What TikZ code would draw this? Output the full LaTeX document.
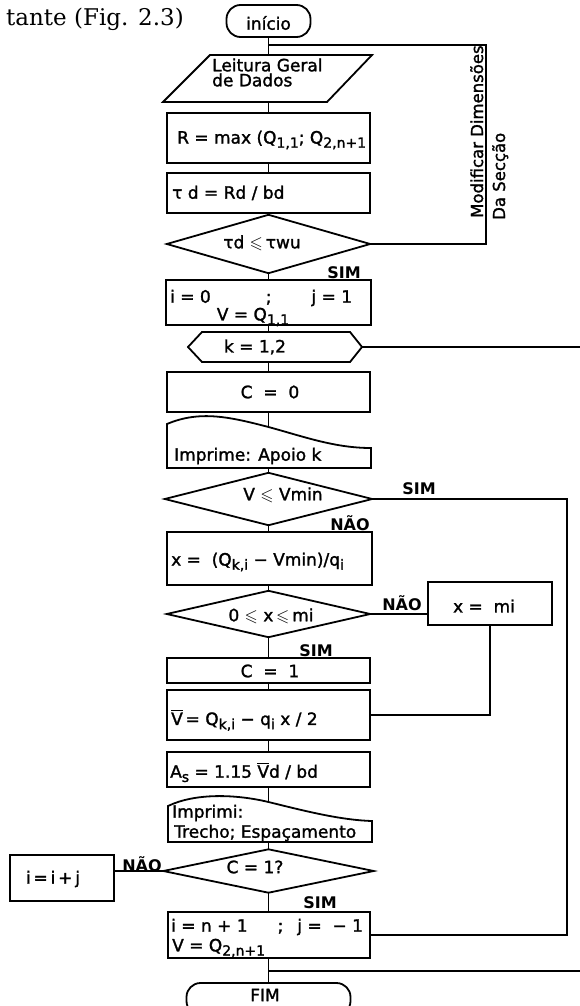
\documentclass[tikz,border=0pt]{standalone}
\usepackage{fontspec}
\setmainfont{DejaVu Sans}
\newfontfamily\medfont{DejaVu Sans}[FakeBold=1.5]
\newfontfamily\hdrfont{DejaVu Serif}
\usepackage{amssymb}
\newcommand\sbx[1]{\raisebox{-0.45ex}{\fontsize{14}{14}\selectfont #1}}
\newcommand\vov{$\overline{\mbox{V}}$}
\newcommand\leqs{$\leqslant$}
\begin{document}
\begin{tikzpicture}[x=1pt,y=-1pt]
\tikzset{
  ln/.style={line width=1.8pt},
  proc/.style={draw, line width=1.8pt, inner sep=0pt},
  frame/.style={inner sep=0pt},
  txt/.style={inner sep=0pt, font=\medfont\fontsize{17}{16}\selectfont},
  lbl/.style={inner sep=0pt, font=\bfseries\fontsize{16}{16}\selectfont},
  term/.style={draw, line width=1.8pt, rounded corners=14pt, inner sep=0pt},
}
\useasboundingbox (0,0) rectangle (580,1006);
\clip (0,0) rectangle (580,1006);
\fill[white] (0,0) rectangle (580,1006);

% header
\node[inner sep=0pt, anchor=west, font=\hdrfont\fontsize{23}{23}\selectfont] (hdr) at (6,19) {tante (Fig. 2.3)};

% start
\node[term, minimum width=84pt, minimum height=32pt] (start) at (268.5,21) {};
\node[txt] (starttxt) at (268.5,23) {início};
\coordinate (j1) at (268.5,45);
\coordinate (modx) at (486,45);

% parallelogram
\node[frame, minimum width=209pt, minimum height=47pt] (par) at (268.5,78.5) {};
\draw[ln] (210,55) -- (372,55) -- (327,102) -- (163,102) -- cycle;
\node[txt, anchor=west, align=left, font=\medfont\fontsize{17}{15}\selectfont] (partxt) at (212,72.5) {Leitura Geral\\de Dados};

% R box
\node[proc, minimum width=203pt, minimum height=50pt] (rbox) at (268.5,138) {};
\node[txt, anchor=west] (rtxt) at (177,140) {R = max (Q\sbx{1,1}; Q\sbx{2,n+1}};

% tau box
\node[proc, minimum width=203pt, minimum height=40pt] (tbox) at (268.5,193) {};
\node[txt, anchor=west] (ttxt) at (172,193) {τ d = Rd / bd};

% diamond 1
\node[frame, minimum width=203pt, minimum height=58pt] (d1) at (268.5,244) {};
\draw[ln] (d1.west) -- (d1.north) -- (d1.east) -- (d1.south) -- cycle;
\node[txt] (d1txt) at (262,243) {τd \leqs\,τwu};

% rotated labels
\node[txt, rotate=90, anchor=base west, font=\medfont\fontsize{16.5}{16}\selectfont] (mod1) at (483,218) {Modificar Dimensões};
\node[txt, rotate=90, anchor=base west, font=\medfont\fontsize{16.5}{16}\selectfont] (mod2) at (505,220) {Da Secção};

% i=0 box
\node[proc, minimum width=205pt, minimum height=45pt] (ibox) at (268.5,302.5) {};
\node[txt, anchor=west] (itxt) at (170,298) {i = 0\hspace{55pt};\hspace{40pt}j = 1};
\node[txt] (vtxt) at (253,317) {V = Q\sbx{1,1}};

% hexagon
\node[frame, minimum width=174pt, minimum height=30pt] (hex) at (275,347) {};
\draw[ln] (188,347) -- (202,332) -- (350,332) -- (362,347) -- (350,362) -- (202,362) -- cycle;
\node[txt] (ktxt) at (255,347) {k = 1,2};
\coordinate (hexout) at (580,347);

% C=0
\node[proc, minimum width=203pt, minimum height=40pt] (c0) at (268.5,392) {};
\node[txt] (c0txt) at (270,392) {C~~=~~0};

% document 1
\node[frame, minimum width=204pt, minimum height=50pt] (doc1) at (268.5,443) {};
\draw[ln] (167,468) -- (167,424) .. controls (200,410) and (230,417) .. (268.5,427) .. controls (305,437) and (335,448) .. (371,448) -- (371,468) -- cycle;
\coordinate (doc1top) at (268.5,427);
\node[txt, anchor=west] (doc1txt) at (174,456) {Imprime: Apoio k};

% diamond 2
\node[frame, minimum width=207pt, minimum height=52pt] (d2) at (268.5,499) {};
\draw[ln] (d2.west) -- (d2.north) -- (d2.east) -- (d2.south) -- cycle;
\node[txt] (d2txt) at (283,495) {V \leqs\ Vmin};
\coordinate (rx) at (567,499);

% x box
\node[proc, minimum width=205pt, minimum height=53pt] (xbox) at (269.5,558.5) {};
\node[txt, anchor=west] (xtxt) at (171,562) {x~=~~(Q\sbx{k,i}~−~Vmin)/q\sbx{i}};

% diamond 3
\node[frame, minimum width=203pt, minimum height=46pt] (d3) at (268.5,614) {};
\draw[ln] (d3.west) -- (d3.north) -- (d3.east) -- (d3.south) -- cycle;
\node[txt] (d3txt) at (271,616) {0 \leqs\ x\,\leqs\,mi};

% x = mi
\node[proc, minimum width=124pt, minimum height=43pt] (xmi) at (490,603.5) {};
\node[txt] (xmitxt) at (484,606) {x~=~~mi};

% C=1
\node[proc, minimum width=203pt, minimum height=25pt] (c1) at (268.5,670.5) {};
\node[txt] (c1txt) at (270,671) {C~~=~~1};

% Vbar
\node[proc, minimum width=203pt, minimum height=50pt] (vbar) at (268.5,715) {};
\node[txt, anchor=west] (vbtxt) at (171,720) {\vov\,= Q\sbx{k,i} − q\sbx{i} x / 2};

% As
\node[proc, minimum width=203pt, minimum height=35pt] (asbox) at (268.5,769.5) {};
\node[txt, anchor=west] (astxt) at (170,772) {A\sbx{s} = 1.15 \vov d / bd};

% document 2
\node[frame, minimum width=204pt, minimum height=47pt] (doc2) at (270,818.5) {};
\draw[ln] (168,842) -- (168,806) .. controls (195,793) and (235,794) .. (268.5,802) .. controls (305,811) and (340,820) .. (372,821) -- (372,842) -- cycle;
\coordinate (doc2top) at (268.5,802);
\node[txt, anchor=west] (doc2a) at (172,813) {Imprimi:};
\node[txt, anchor=west] (doc2b) at (174,833) {Trecho; Espaçamento};

% diamond 4
\node[frame, minimum width=210pt, minimum height=43pt] (d4) at (268.5,871) {};
\draw[ln] (d4.west) -- (d4.north) -- (d4.east) -- (d4.south) -- cycle;
\node[txt] (d4txt) at (255,867) {C = 1?};

% i=i+j
\node[proc, minimum width=104pt, minimum height=46pt] (iij) at (62,878) {};
\node[txt] (iijtxt) at (53,879) {i\,=\,i\,+\,j};

% n box
\node[proc, minimum width=202pt, minimum height=46pt] (nbox) at (269,935) {};
\node[txt, anchor=west] (ntxt1) at (171,927) {i = n + 1\hspace{30pt};\hspace{14pt}j~=~~−~1};
\node[txt, anchor=west] (ntxt2) at (172,948) {V = Q\sbx{2,n+1}};

% end
\coordinate (j2) at (268.5,971);
\coordinate (botout) at (580,971);
\node[term, minimum width=164pt, minimum height=32pt] (fim) at (268.5,999) {};
\node[txt] (fimtxt) at (265,995) {FIM};

% labels
\node[lbl] (sim1) at (344,273) {SIM};
\node[lbl] (sim2) at (419,489) {SIM};
\node[lbl] (nao1) at (350,523) {NÃO};
\node[lbl] (nao2) at (402,603) {NÃO};
\node[lbl] (sim3) at (316,651) {SIM};
\node[lbl] (nao3) at (142,864) {NÃO};
\node[lbl] (sim4) at (320,903) {SIM};

% connectors
\draw[ln] (start.south) -- (j1) -- (j1 |- par.north);
\draw[ln] (j1) -- (modx) |- (d1.east);
\draw[ln] (par.south) -- (rbox.north);
\draw[ln] (rbox.south) -- (tbox.north);
\draw[ln] (tbox.south) -- (d1.north);
\draw[ln] (d1.south) -- (ibox.north);
\draw[ln] (ibox.south) -- (ibox.south |- hex.north);
\draw[ln] (c0.north) -- (c0.north |- hex.south);
\draw[ln] (hex.east) -- (hexout);
\draw[ln] (c0.south) -- (doc1top);
\draw[ln] (doc1.south) -- (d2.north);
\draw[ln] (d2.south) -- (d2.south |- xbox.north);
\draw[ln] (d2.east) -- (rx) |- (nbox.east);
\draw[ln] (d3.north) -- (d3.north |- xbox.south);
\draw[ln] (d3.east) -- (d3.east -| xmi.west);
\draw[ln] (d3.south) -- (c1.north);
\draw[ln] (xmi.south) |- (vbar.east);
\draw[ln] (c1.south) -- (vbar.north);
\draw[ln] (vbar.south) -- (asbox.north);
\draw[ln] (asbox.south) -- (doc2top);
\draw[ln] (d4.north) -- (d4.north |- doc2.south);
\draw[ln] (d4.west) -- (d4.west -| iij.east);
\draw[ln] (d4.south) -- (d4.south |- nbox.north);
\draw[ln] (nbox.south -| j2) -- (j2) -- (fim.north);
\draw[ln] (j2) -- (botout);
\end{tikzpicture}
\end{document}
